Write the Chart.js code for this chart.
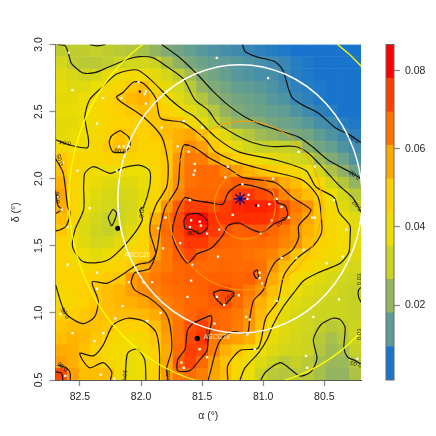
<!DOCTYPE html>
<html>
<head>
<meta charset="utf-8">
<style>
  html, body { margin: 0; padding: 0; background: #fff; }
  canvas { position: absolute; top: 0; }
</style>
<script src="https://cdn.jsdelivr.net/npm/chart.js@4"></script>
</head>
<body>
<canvas id="mapa" width="436" height="436" style="left:0"></canvas>
<canvas id="barra" width="66" height="436" style="left:370px"></canvas>
<script>
const alphaMin = 80.2, alphaMax = 82.7, deltaMin = 0.5, deltaMax = 3.0;
const alphaTicks = [82.5, 82.0, 81.5, 81.0, 80.5];
const deltaTicks = [0.5, 1.0, 1.5, 2.0, 2.5, 3.0];

// surface density, in thousandths, top row first, alpha falling left to right
const densityRows = [
  [29,29,29,30,29,28,27,25,22,19,17,15,13,12,11,10,9,8,7,6,5,5,4,4,5,5],
  [33,29,28,28,29,31,33,33,31,26,21,18,16,15,14,13,12,11,10,9,7,6,5,5,4,4],
  [36,34,31,33,37,40,42,41,37,33,29,24,19,17,15,13,12,11,11,9,7,6,5,5,4,4],
  [38,36,36,39,42,45,50,52,43,37,33,28,22,19,17,15,14,13,12,10,8,7,6,5,4,4],
  [37,37,39,42,45,50,53,55,49,41,36,31,27,22,19,17,16,15,13,12,9,8,6,5,4,4],
  [38,38,40,43,46,48,50,52,50,46,41,37,32,27,22,19,17,16,15,14,12,10,8,7,5,5],
  [37,37,40,42,45,46,47,48,50,52,51,43,37,31,26,22,21,19,17,16,15,13,11,10,7,6],
  [37,38,40,43,46,51,49,47,49,52,55,57,51,43,36,30,27,24,22,20,18,17,14,12,10,8],
  [43,42,40,44,49,52,49,46,47,50,56,61,58,50,43,36,32,30,30,30,29,21,17,15,12,10],
  [50,46,44,45,46,46,45,45,46,50,59,64,63,57,51,47,43,39,37,35,33,31,24,19,16,12],
  [51,46,43,40,40,40,39,39,45,50,60,65,66,66,62,58,54,51,49,46,42,39,33,26,21,16],
  [55,46,41,38,36,36,36,38,44,50,60,65,66,66,66,69,67,64,61,56,52,46,42,33,27,22],
  [57,46,40,36,34,33,34,37,44,52,62,67,67,67,69,74,75,72,70,62,57,52,48,39,33,28],
  [56,46,39,35,33,32,33,38,47,60,69,74,74,72,74,77,78,78,77,70,64,60,50,42,36,31],
  [52,45,36,33,30,31,34,41,55,65,72,80,81,76,75,76,76,76,75,70,62,57,50,44,40,36],
  [50,42,35,31,30,33,37,44,59,66,72,78,78,75,71,68,69,70,67,64,60,55,50,45,41,37],
  [46,40,36,33,34,37,42,46,57,65,71,75,75,70,68,67,66,66,65,62,60,53,48,44,41,37],
  [46,43,39,37,39,43,46,48,58,64,69,72,68,66,66,66,65,64,62,58,51,48,44,42,40,36],
  [46,44,43,44,45,47,49,55,62,64,67,68,66,66,67,66,66,65,59,52,48,44,40,37,35,33],
  [46,46,47,48,49,50,59,61,64,66,67,68,68,68,68,67,68,64,56,49,41,39,36,34,32,31],
  [44,46,48,50,52,54,58,61,63,65,66,67,68,70,72,68,64,60,52,45,40,36,34,33,31,30],
  [43,45,47,50,52,54,55,57,60,63,65,67,67,69,71,66,62,55,49,40,36,34,32,31,31,30],
  [47,48,50,51,52,52,52,53,56,61,64,67,69,67,66,64,60,53,46,37,34,32,31,31,31,30],
  [50,52,52,51,50,47,47,48,52,59,65,71,74,68,66,63,59,51,40,36,34,32,30,28,29,31],
  [52,54,53,50,46,43,42,44,50,58,65,72,75,64,60,58,55,46,38,35,33,31,28,25,28,31],
  [56,55,51,46,43,41,40,42,48,56,66,74,72,63,55,50,43,39,35,33,32,31,27,24,25,30],
  [58,55,50,49,45,41,38,40,47,57,69,73,66,58,51,44,40,35,31,28,30,28,25,23,23,28],
  [72,58,52,52,52,42,38,40,47,58,64,66,63,57,52,43,39,31,28,27,28,28,25,22,22,26]
];

// colour bar
const bandEdges = [0.00084, 0.00942, 0.018, 0.02658, 0.03516, 0.04374, 0.05232, 0.0609, 0.06948, 0.07806, 0.0867];
const bandColors = ['#1874cd', '#5c9b97', '#97b55f', '#cbd421', '#eedd00', '#ffd000', '#ffa800', '#ff7000', '#ff4000', '#ff0000'];
const barTicks = [0.02, 0.04, 0.06, 0.08];

// contour lines [alpha, delta]
const c01 = [[81.17,3.00],[81.15,2.95],[81.06,2.91],[80.97,2.89],[80.90,2.87],[80.84,2.81],[80.79,2.66],[80.76,2.60],[80.68,2.55],[80.55,2.49],[80.41,2.38],[80.30,2.33],[80.20,2.27]];
const c02 = [[81.83,3.00],[81.68,2.90],[81.52,2.76],[81.42,2.66],[81.29,2.55],[81.15,2.46],[81.01,2.40],[80.84,2.35],[80.71,2.31],[80.60,2.24],[80.47,2.14],[80.29,2.05],[80.20,2.00]];
const c03 = [[82.69,3.00],[82.62,2.99],[82.59,2.92],[82.57,2.86],[82.48,2.79],[82.38,2.79],[82.27,2.83],[82.11,2.89],[82.01,2.91],[81.90,2.90],[81.78,2.83],[81.65,2.74],[81.56,2.59],[81.45,2.51],[81.37,2.41],[81.23,2.33],[81.09,2.27],[80.93,2.24],[80.74,2.24],[80.63,2.19],[80.51,2.08],[80.38,1.95],[80.27,1.86],[80.20,1.75]];
const c03arc = [[82.42,3.00],[82.36,2.99],[82.29,3.00]];
const c03low = [[81.02,0.50],[80.98,0.56],[80.86,0.63],[80.79,0.59],[80.70,0.53],[80.61,0.56],[80.56,0.66],[80.59,0.80],[80.53,0.91],[80.43,0.96],[80.37,0.95],[80.33,0.89],[80.34,0.74],[80.31,0.67],[80.26,0.65],[80.20,0.62]];
const c03edge = [[80.20,1.19],[80.22,1.17],[80.22,1.12],[80.20,1.08]];
const c03spot = [[82.27,1.71],[82.23,1.77],[82.20,1.74],[82.24,1.65],[82.27,1.71]];
const c04 = [[82.70,2.29],[82.58,2.25],[82.44,2.23],[82.43,2.29],[82.46,2.46],[82.42,2.59],[82.32,2.68],[82.20,2.78],[82.03,2.81],[81.90,2.72],[81.76,2.59],[81.65,2.51],[81.56,2.46],[81.39,2.31],[81.20,2.20],[80.90,2.14],[80.65,2.06],[80.57,1.94],[80.42,1.86],[80.38,1.75],[80.29,1.65],[80.29,1.56],[80.30,1.45],[80.37,1.37],[80.55,1.30],[80.67,1.24],[80.75,1.15],[80.84,1.04],[80.92,0.91],[80.97,0.80],[81.04,0.70],[81.15,0.59],[81.19,0.50]];
const c04blob = [[82.47,1.94],[82.46,2.04],[82.39,2.09],[82.25,2.04],[82.15,2.08],[82.01,2.10],[81.93,2.06],[81.93,1.94],[81.98,1.79],[82.01,1.77],[81.99,1.69],[82.11,1.53],[82.28,1.39],[82.47,1.38],[82.56,1.49],[82.54,1.62],[82.47,1.77],[82.47,1.94]];
const c04arch = [[82.13,0.50],[82.11,0.70],[82.03,0.73],[81.97,0.65],[81.96,0.50]];
const c05 = [[82.70,1.21],[82.62,1.00],[82.48,0.92],[82.38,0.97],[82.35,1.09],[82.40,1.23],[82.28,1.22],[82.16,1.28],[82.03,1.36],[81.93,1.38],[81.88,1.44],[81.93,1.62],[81.88,1.80],[81.79,1.94],[81.78,2.12],[81.83,2.31],[81.98,2.46],[82.16,2.57],[82.20,2.61],[82.15,2.64],[82.06,2.72],[81.98,2.71],[81.88,2.60],[81.84,2.45],[81.66,2.42],[81.56,2.36],[81.47,2.29],[81.39,2.20],[81.20,2.12],[80.96,2.06],[80.68,1.99],[80.55,1.86],[80.52,1.65],[80.53,1.58],[80.59,1.50],[80.72,1.41],[80.83,1.28],[80.88,1.09],[80.98,0.96],[81.04,0.74],[81.19,0.72],[81.29,0.61],[81.29,0.50]];
const c05arch = [[82.25,0.50],[82.24,0.56],[82.31,0.63],[82.42,0.59],[82.48,0.65],[82.50,0.70],[82.39,0.68],[82.31,0.76],[82.23,0.91],[82.11,0.96],[81.98,0.94],[81.88,0.86],[81.85,0.72],[81.85,0.50]];
const c05loop = [[82.17,2.36],[82.10,2.31],[82.09,2.25],[82.13,2.20],[82.23,2.20],[82.26,2.27],[82.24,2.32],[82.17,2.36]];
const c05left = [[82.70,2.15],[82.64,2.05],[82.62,1.94],[82.60,1.79],[82.58,1.75],[82.61,1.65],[82.66,1.62],[82.70,1.61]];
const c06 = [[81.78,0.50],[81.79,0.59],[81.75,0.72],[81.76,0.89],[81.80,1.00],[81.93,1.11],[82.05,1.17],[82.08,1.23],[82.05,1.30],[81.93,1.33],[81.87,1.47],[81.84,1.65],[81.80,1.79],[81.70,1.94],[81.68,2.14],[81.65,2.25],[81.56,2.23],[81.45,2.16],[81.29,2.08],[81.17,2.01],[80.90,1.97],[80.76,1.86],[80.61,1.77],[80.63,1.73],[80.71,1.65],[80.71,1.56],[80.76,1.47],[80.90,1.38],[80.96,1.28],[81.00,1.17],[81.08,1.09],[81.11,0.96],[81.13,0.85],[81.24,0.86],[81.33,0.82],[81.38,0.74],[81.43,0.57],[81.45,0.50]];
const c06left = [[82.70,1.91],[82.68,1.80],[82.65,1.77],[82.70,1.74]];
const c06corner = [[82.68,0.61],[82.61,0.59],[82.58,0.55],[82.58,0.50]];
const c07 = [[81.74,1.65],[81.70,1.77],[81.64,1.86],[81.57,1.84],[81.43,1.82],[81.33,1.81],[81.29,1.89],[81.23,1.94],[81.17,1.96],[81.02,1.93],[80.93,1.89],[80.88,1.82],[80.82,1.80],[80.80,1.73],[80.84,1.69],[80.90,1.67],[81.01,1.60],[81.09,1.62],[81.20,1.67],[81.29,1.65],[81.33,1.58],[81.43,1.48],[81.54,1.44],[81.62,1.37],[81.70,1.47],[81.74,1.56],[81.74,1.65]];
const c07ascc = [[81.58,0.92],[81.43,0.98],[81.42,0.95],[81.45,0.81],[81.46,0.72],[81.52,0.65],[81.60,0.57],[81.70,0.57],[81.70,0.65],[81.64,0.73],[81.62,0.87],[81.58,0.92]];
const c07south = [[81.41,1.15],[81.35,1.17],[81.24,1.15],[81.29,1.08],[81.33,1.06],[81.39,1.11],[81.41,1.15]];
const c07spot = [[81.08,1.30],[81.05,1.32],[81.04,1.26],[81.06,1.26],[81.08,1.30]];
const c07corner = [[82.70,0.56],[82.65,0.55],[82.64,0.50]];
const c08 = [[81.65,1.69],[81.62,1.73],[81.53,1.74],[81.46,1.69],[81.46,1.63],[81.52,1.59],[81.58,1.62],[81.64,1.63],[81.65,1.69]];
const contourLines = [c01, c02, c03, c03arc, c03low, c03edge, c03spot, c04, c04blob, c04arch, c05, c05arch, c05loop, c05left, c06, c06left, c06corner, c07, c07ascc, c07south, c07spot, c07corner, c08];

// contour labels, angle in degrees as they sit on the picture
const labelText = ['0.01','0.02','0.03','0.04','0.05','0.06','0.05','0.04','0.08','0.07','0.07','0.07','0.05','0.06','0.04','0.06','0.03','0.03','0.03'];
const labelAlpha = [80.26,80.25,80.23,82.62,82.66,82.68,82.17,81.99,81.57,81.28,80.86,81.45,82.62,82.64,82.13,81.78,80.21,80.24,80.21];
const labelDelta = [2.30,2.03,1.80,2.27,2.14,1.86,2.21,1.75,1.60,1.12,1.68,0.83,1.00,0.60,0.53,0.53,1.25,0.62,0.84];
const labelAngle = [215,215,230,190,255,265,185,280,175,150,135,280,240,220,275,270,270,195,270];

// cluster members
const memberAlpha = [82.59,82.56,82.31,82.36,82.52,82.20,82.02,81.96,81.97,82.16,81.96,81.79,81.65,81.83,81.50,81.70,81.61,81.56,81.56,81.57,82.18,82.10,82.14,82.64,82.68,82.65,82.42,81.60,81.38,80.96,80.71,80.58,80.42,81.29,81.31,81.17,81.12,81.13,80.92,80.89,80.95,80.85,81.04,82.60,82.60,82.36,82.36,82.10,81.98,81.91,81.86,81.80,81.82,81.68,81.58,81.59,81.62,81.38,82.15,82.21,81.95,81.84,82.66,82.56,82.38,82.31,81.67,81.65,81.52,81.46,82.33,82.22,82.62,81.59,81.51,81.60,81.46,81.52,81.25,80.93,80.79,81.02,81.37,80.85,80.73,80.67,80.60,80.58,80.32,80.35,80.48,81.03,81.03,81.01,81.32,81.20,80.89,80.38,80.59,81.14,81.11,81.13,81.40,81.07,80.65,80.64,80.23,81.36];
const memberDelta = [2.94,2.66,2.60,2.41,2.06,2.06,2.72,2.65,2.63,2.60,2.56,2.65,2.43,2.38,2.38,2.24,2.20,2.11,2.06,2.03,2.24,2.24,2.24,2.12,1.86,1.77,1.78,1.84,2.90,2.75,2.20,2.09,1.84,2.09,2.01,1.96,1.88,1.85,2.00,1.85,1.81,1.79,1.80,1.64,1.36,1.30,1.18,1.23,1.23,1.23,1.63,1.71,1.48,1.52,1.36,1.24,1.12,1.12,1.05,0.96,0.94,1.00,0.99,0.85,0.79,0.85,0.63,0.59,0.73,0.67,0.54,0.51,0.53,1.69,1.65,1.64,1.59,1.68,1.73,1.69,1.71,1.59,1.42,1.41,1.41,1.47,1.71,1.71,1.62,1.42,1.37,1.30,1.26,1.22,1.06,1.13,1.09,1.10,0.97,0.97,0.95,0.84,0.92,0.73,0.68,0.59,0.66,1.62];

// open clusters and named objects
const clusterAlpha = [82.19, 81.54];
const clusterDelta = [1.63, 0.81];
const clusterName = ['ASCC20', 'ASCC78'];
const nameAlpha = [82.03, 81.38];
const nameDelta = [1.43, 0.82];
const blackAlpha = [82.01, 81.06];
const blackDelta = [2.65, 1.80];
const starAlpha = [81.19];
const starDelta = [1.85];

// circles round the field centre, radius in degrees
const ringAlpha = [81.19, 81.19, 81.15, 81.15];
const ringDelta = [1.85, 1.85, 1.80, 1.80];
const ringRadius = [1.4, 1.0, 0.63, 0.25];
const ringColor = ['#ffff00', '#ffffff', '#ffa000', '#ffa000'];
const ringWidth = [1.3, 1.5, 1, 1];

const labelFont = '10.5px "Liberation Sans", Arial, sans-serif';

function hexRgb(hex) {
    return [1, 3, 5].map(i => parseInt(hex.substr(i, 2), 16));
}

function densityColor(value) {
    const centres = bandColors.map((c, i) => (bandEdges[i] + bandEdges[i + 1]) / 2);
    if (value <= centres[0]) return bandColors[0];
    for (let i = 1; i < centres.length; i++) {
        if (value <= centres[i]) {
            const t = (value - centres[i - 1]) / (centres[i] - centres[i - 1]);
            const a = hexRgb(bandColors[i - 1]);
            const b = hexRgb(bandColors[i]);
            return 'rgb(' + a.map((v, k) => Math.round(v + (b[k] - v) * t)).join(',') + ')';
        }
    }
    return bandColors[bandColors.length - 1];
}

function toPoints(xs, ys) {
    return xs.map((x, i) => ({ x: x, y: ys[i] }));
}

const nRows = densityRows.length;
const nCols = densityRows[0].length;
const datasets = [];

densityRows.forEach((row, r) => {
    const top = deltaMax - r * (deltaMax - deltaMin) / nRows;
    const bottom = deltaMax - (r + 1) * (deltaMax - deltaMin) / nRows;
    datasets.push({
        type: 'bar',
        order: 10,
        grouped: false,
        barPercentage: 1,
        categoryPercentage: 1,
        borderWidth: 0,
        data: row.map((v, c) => ({
            x: alphaMax - (c + 0.5) * (alphaMax - alphaMin) / nCols,
            y: [bottom, top]
        })),
        backgroundColor: row.map(v => densityColor(v / 1000))
    });
});

contourLines.forEach(line => {
    datasets.push({
        type: 'scatter',
        order: 5,
        showLine: true,
        tension: 0.25,
        borderColor: 'rgba(15,15,15,0.95)',
        borderWidth: 1.2,
        pointRadius: 0,
        data: line.map(p => ({ x: p[0], y: p[1] }))
    });
});

datasets.push({
    type: 'scatter', order: 4, pointStyle: 'rect', pointRadius: 1.6, borderWidth: 0,
    backgroundColor: '#ffffff',
    data: toPoints(memberAlpha, memberDelta)
});
datasets.push({
    type: 'scatter', order: 3, pointRadius: 2.6, borderWidth: 0,
    backgroundColor: '#000000',
    data: toPoints(clusterAlpha, clusterDelta)
});
datasets.push({
    type: 'scatter', order: 3, pointRadius: 1.2, borderWidth: 0,
    backgroundColor: '#000000',
    data: toPoints(blackAlpha, blackDelta)
});
datasets.push({
    type: 'scatter', order: 2, pointStyle: 'star', pointRadius: 6.5, borderWidth: 1.2,
    borderColor: '#00008b', backgroundColor: '#00008b',
    data: toPoints(starAlpha, starDelta)
});

const overlayPlugin = {
    id: 'overlay',
    afterDatasetsDraw(chart) {
        const { ctx, chartArea, scales } = chart;
        const x = scales.x, y = scales.y;
        ctx.save();
        ctx.beginPath();
        ctx.rect(chartArea.left, chartArea.top, chartArea.width, chartArea.height);
        ctx.clip();

        ringRadius.forEach((r, i) => {
            const cx = x.getPixelForValue(ringAlpha[i]);
            const cy = y.getPixelForValue(ringDelta[i]);
            const rx = Math.abs(x.getPixelForValue(ringAlpha[i] + r) - cx);
            const ry = Math.abs(y.getPixelForValue(ringDelta[i] + r) - cy);
            ctx.beginPath();
            ctx.ellipse(cx, cy, rx, ry, 0, 0, Math.PI * 2);
            ctx.strokeStyle = ringColor[i];
            ctx.lineWidth = ringWidth[i];
            ctx.stroke();
        });

        ctx.textAlign = 'center';
        ctx.textBaseline = 'middle';
        ctx.font = '6px "Liberation Sans", Arial, sans-serif';
        ctx.fillStyle = 'rgba(20,20,20,0.95)';
        labelText.forEach((t, i) => {
            ctx.save();
            ctx.translate(x.getPixelForValue(labelAlpha[i]), y.getPixelForValue(labelDelta[i]));
            ctx.rotate(labelAngle[i] * Math.PI / 180);
            ctx.fillText(t, 0, 0);
            ctx.restore();
        });

        ctx.font = '6.8px "Liberation Sans", Arial, sans-serif';
        ctx.fillStyle = 'rgba(255,255,255,0.8)';
        clusterName.forEach((t, i) => {
            ctx.fillText(t, x.getPixelForValue(nameAlpha[i]), y.getPixelForValue(nameDelta[i]));
        });
        ctx.restore();

        // y tick labels stand on end
        ctx.save();
        ctx.font = labelFont;
        ctx.fillStyle = '#262626';
        ctx.textAlign = 'center';
        ctx.textBaseline = 'middle';
        deltaTicks.forEach(v => {
            ctx.save();
            ctx.translate(39.5, y.getPixelForValue(v));
            ctx.rotate(-Math.PI / 2);
            ctx.fillText(v.toFixed(1), 0, 0);
            ctx.restore();
        });
        ctx.restore();
    }
};

new Chart(document.getElementById('mapa'), {
    type: 'scatter',
    data: { datasets: datasets },
    plugins: [overlayPlugin],
    options: {
        responsive: false,
        animation: false,
        events: [],
        layout: { padding: { top: 44.5, right: 75, left: 0, bottom: 0 } },
        plugins: { legend: { display: false }, tooltip: { enabled: false } },
        scales: {
            x: {
                type: 'linear',
                reverse: true,
                offset: false,
                min: alphaMin,
                max: alphaMax,
                afterBuildTicks: s => { s.ticks = alphaTicks.map(v => ({ value: v })); },
                afterFit: s => { s.height = 56; },
                border: { display: true, color: '#5a5a50', width: 1 },
                grid: { offset: false, drawOnChartArea: false, drawTicks: true, tickLength: 6, tickColor: '#8c8c8c', tickWidth: 1.3 },
                ticks: {
                    autoSkip: false,
                    maxRotation: 0,
                    padding: 5,
                    color: '#262626',
                    font: { family: '"Liberation Sans", Arial, sans-serif', size: 10.5 },
                    callback: v => v.toFixed(1)
                },
                title: {
                    display: true,
                    text: 'α (°)',
                    color: '#262626',
                    font: { family: '"Liberation Sans", Arial, sans-serif', size: 10.5 },
                    padding: { top: 0, bottom: 14 }
                }
            },
            y: {
                type: 'linear',
                min: deltaMin,
                max: deltaMax,
                afterBuildTicks: s => { s.ticks = deltaTicks.map(v => ({ value: v })); },
                afterFit: s => { s.width = 55.5; },
                border: { display: true, color: '#5a5a50', width: 1 },
                grid: { drawOnChartArea: false, drawTicks: true, tickLength: 6, tickColor: '#8c8c8c', tickWidth: 1.3 },
                ticks: { display: false },
                title: {
                    display: true,
                    text: 'δ (°)',
                    color: '#262626',
                    font: { family: '"Liberation Sans", Arial, sans-serif', size: 10.5 },
                    padding: { top: 10, bottom: 10 }
                }
            }
        }
    }
});

const barFrame = {
    id: 'barFrame',
    afterDatasetsDraw(chart) {
        const a = chart.chartArea;
        chart.ctx.save();
        chart.ctx.strokeStyle = '#666666';
        chart.ctx.lineWidth = 1;
        chart.ctx.strokeRect(a.left, a.top, a.width, a.height);
        chart.ctx.restore();
    }
};

new Chart(document.getElementById('barra'), {
    type: 'bar',
    data: {
        labels: ['densidade'],
        datasets: bandColors.map((c, i) => ({
            data: [[bandEdges[i], bandEdges[i + 1]]],
            backgroundColor: c,
            borderWidth: 0,
            grouped: false,
            barPercentage: 1,
            categoryPercentage: 1
        }))
    },
    plugins: [barFrame],
    options: {
        responsive: false,
        animation: false,
        events: [],
        layout: { padding: { top: 44.5, bottom: 56, left: 16, right: 0 } },
        plugins: { legend: { display: false }, tooltip: { enabled: false } },
        scales: {
            x: { display: false },
            y: {
                position: 'right',
                min: bandEdges[0],
                max: bandEdges[bandEdges.length - 1],
                afterBuildTicks: s => { s.ticks = barTicks.map(v => ({ value: v })); },
                afterFit: s => { s.width = 42; },
                border: { display: false },
                grid: { drawOnChartArea: false, drawTicks: true, tickLength: 6, tickColor: '#8c8c8c', tickWidth: 1.3 },
                ticks: {
                    padding: 5,
                    color: '#262626',
                    font: { family: '"Liberation Sans", Arial, sans-serif', size: 10.5 },
                    callback: v => v.toFixed(2)
                }
            }
        }
    }
});
</script>
</body>
</html>
